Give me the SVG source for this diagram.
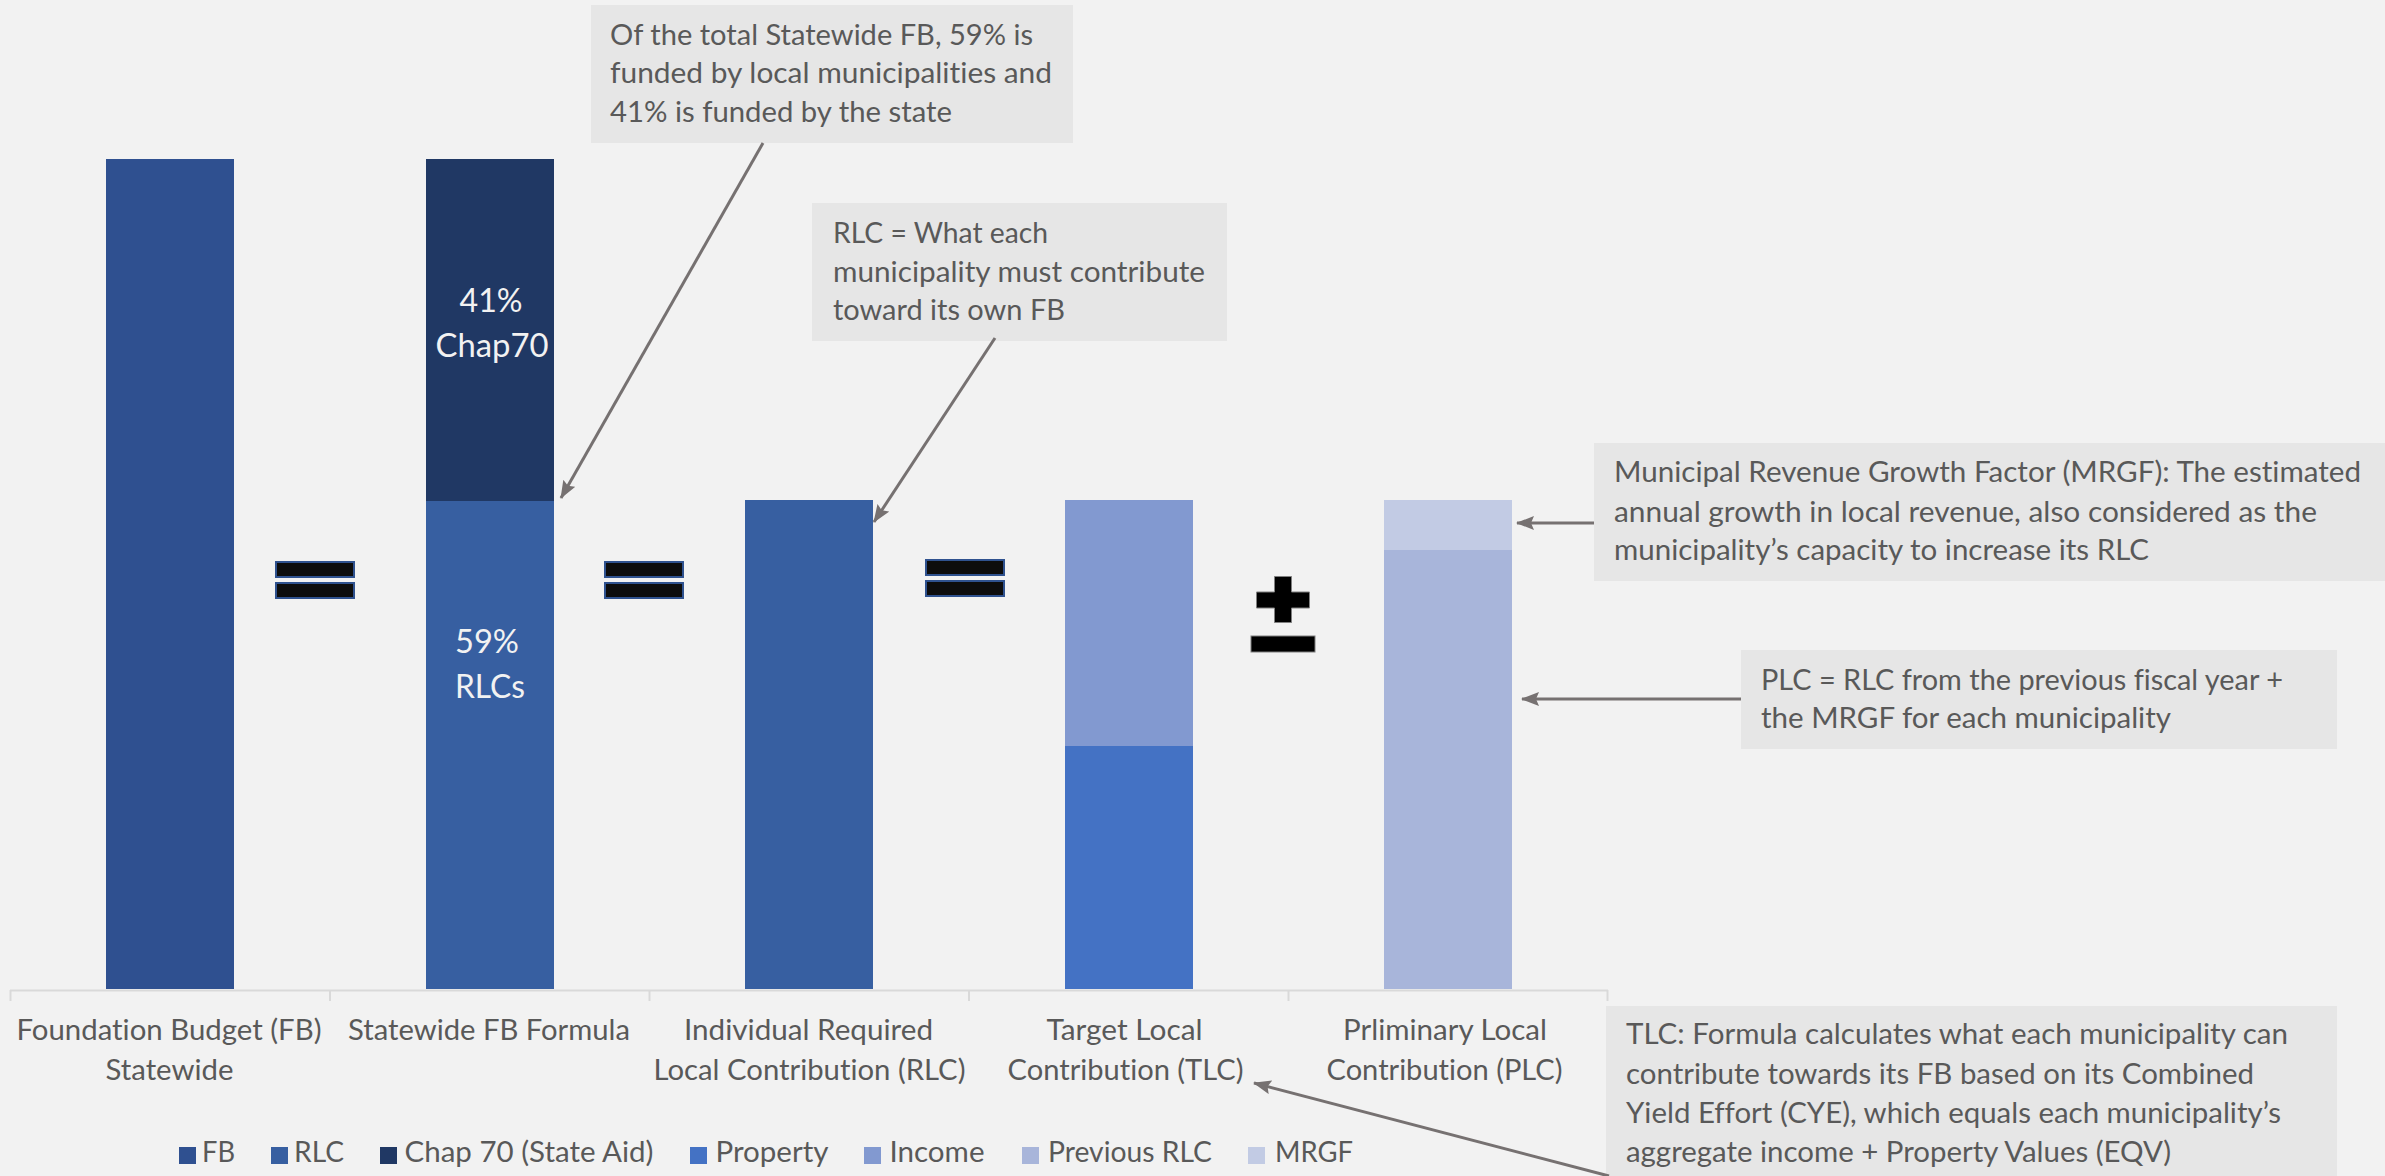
<svg xmlns="http://www.w3.org/2000/svg" width="2385" height="1176" viewBox="0 0 2385 1176">
  <style>
    text { font-variant-ligatures: none; font-feature-settings: "liga" 0, "dlig" 0, "clig" 0; }
    .txt { font-family: Lato, "Liberation Sans", sans-serif; fill: #595959; }
    .call { font-size: 28px; }
    .cat { font-size: 28px; text-anchor: middle; }
    .leg { font-size: 28px; }
    .inbar { font-family: Lato, "Liberation Sans", sans-serif; font-size: 33px; fill: #F2F2F2; text-anchor: middle; }
    .box { fill: #E6E6E6; }
    .eq { fill: #0D0D0D; stroke: #2F528F; stroke-width: 2; }
    .pm { fill: #000000; stroke: #7F7F7F; stroke-width: 1; }
    .conn { stroke: #767171; stroke-width: 3; fill: none; marker-end: url(#arr); }
    .axis { stroke: #D9D9D9; stroke-width: 2; fill: none; }
  </style>
  <defs>
    <marker id="arr" viewBox="0 0 18 14" refX="17" refY="7" markerWidth="18" markerHeight="14" markerUnits="userSpaceOnUse" orient="auto">
      <path d="M18,7 L0,0 L3,7 L0,14 Z" fill="#767171"/>
    </marker>
  </defs>
  <rect x="0" y="0" width="2385" height="1176" fill="#F2F2F2"/>

  <g id="axis">
    <path class="axis" d="M10,990.5 H1608 M10.5,990 V1001 M330,990 V1001 M649.5,990 V1001 M969,990 V1001 M1288.5,990 V1001 M1607.5,990 V1001"/>
  </g>

  <g id="bar-fb">
    <rect x="106" y="159" width="128" height="830" fill="#2F5090"/>
  </g>
  <g id="bar-statewide">
    <rect x="426" y="159" width="128" height="342" fill="#203864"/>
    <rect x="426" y="501" width="128" height="488" fill="#375FA1"/>
    <text class="inbar" x="491" y="312" textLength="63" lengthAdjust="spacingAndGlyphs">41%</text>
    <text class="inbar" x="492" y="357" textLength="113" lengthAdjust="spacingAndGlyphs">Chap70</text>
    <text class="inbar" x="487" y="653" textLength="64" lengthAdjust="spacingAndGlyphs">59%</text>
    <text class="inbar" x="490" y="698" textLength="70" lengthAdjust="spacingAndGlyphs">RLCs</text>
  </g>
  <g id="bar-rlc">
    <rect x="745" y="500" width="128" height="489" fill="#375FA1"/>
  </g>
  <g id="bar-tlc">
    <rect x="1065" y="500" width="128" height="246" fill="#8299D0"/>
    <rect x="1065" y="746" width="128" height="243" fill="#4472C4"/>
  </g>
  <g id="bar-plc">
    <rect x="1384" y="500" width="128" height="50" fill="#C2CBE4"/>
    <rect x="1384" y="550" width="128" height="439" fill="#A8B5DA"/>
  </g>

  <g id="op-eq1">
    <rect class="eq" x="276" y="562" width="78" height="15"/>
    <rect class="eq" x="276" y="583" width="78" height="15"/>
  </g>
  <g id="op-eq2">
    <rect class="eq" x="605" y="562" width="78" height="15"/>
    <rect class="eq" x="605" y="583" width="78" height="15"/>
  </g>
  <g id="op-eq3">
    <rect class="eq" x="926" y="560" width="78" height="15"/>
    <rect class="eq" x="926" y="581" width="78" height="15"/>
  </g>
  <g id="op-pm">
    <path class="pm" d="M1274.5,576.5 H1291.5 V592 H1309.5 V608 H1291.5 V622.5 H1274.5 V608 H1256.5 V592 H1274.5 Z"/>
    <rect class="pm" x="1251" y="636" width="64" height="16"/>
  </g>

  <g id="categories" class="txt cat">
    <text x="169" y="1040" textLength="305" lengthAdjust="spacingAndGlyphs">Foundation Budget (FB)</text>
    <text x="169.5" y="1080" textLength="128" lengthAdjust="spacingAndGlyphs">Statewide</text>
    <text x="489" y="1040" textLength="282" lengthAdjust="spacingAndGlyphs">Statewide FB Formula</text>
    <text x="808.5" y="1040" textLength="249" lengthAdjust="spacingAndGlyphs">Individual Required</text>
    <text x="809.5" y="1080" textLength="312" lengthAdjust="spacingAndGlyphs">Local Contribution (RLC)</text>
    <text x="1124.5" y="1040" textLength="156" lengthAdjust="spacingAndGlyphs">Target Local</text>
    <text x="1125.5" y="1080" textLength="236" lengthAdjust="spacingAndGlyphs">Contribution (TLC)</text>
    <text x="1445" y="1040" textLength="204" lengthAdjust="spacingAndGlyphs">Prliminary Local</text>
    <text x="1444.5" y="1080" textLength="236" lengthAdjust="spacingAndGlyphs">Contribution (PLC)</text>
  </g>

  <g id="legend" class="txt leg">
    <rect x="179" y="1147" width="17" height="17" fill="#2F5090"/>
    <text x="202" y="1162" textLength="33" lengthAdjust="spacingAndGlyphs">FB</text>
    <rect x="271" y="1147" width="17" height="17" fill="#375FA1"/>
    <text x="294" y="1162" textLength="50" lengthAdjust="spacingAndGlyphs">RLC</text>
    <rect x="380" y="1147" width="17" height="17" fill="#203864"/>
    <text x="404.5" y="1162" textLength="249" lengthAdjust="spacingAndGlyphs">Chap 70 (State Aid)</text>
    <rect x="690" y="1147" width="17" height="17" fill="#4472C4"/>
    <text x="715.5" y="1162" textLength="113" lengthAdjust="spacingAndGlyphs">Property</text>
    <rect x="864" y="1147" width="17" height="17" fill="#8299D0"/>
    <text x="889.5" y="1162" textLength="95" lengthAdjust="spacingAndGlyphs">Income</text>
    <rect x="1022" y="1147" width="17" height="17" fill="#A8B5DA"/>
    <text x="1048" y="1162" textLength="164" lengthAdjust="spacingAndGlyphs">Previous RLC</text>
    <rect x="1248" y="1147" width="17" height="17" fill="#C2CBE4"/>
    <text x="1275" y="1162" textLength="78" lengthAdjust="spacingAndGlyphs">MRGF</text>
  </g>

  <g id="callout-statewide">
    <rect class="box" x="591" y="5" width="482" height="138"/>
    <text class="txt call" x="610" y="45" textLength="423" lengthAdjust="spacingAndGlyphs">Of the total Statewide FB, 59% is</text>
    <text class="txt call" x="610" y="83" textLength="442" lengthAdjust="spacingAndGlyphs">funded by local municipalities and</text>
    <text class="txt call" x="610" y="122" textLength="342" lengthAdjust="spacingAndGlyphs">41% is funded by the state</text>
  </g>
  <g id="callout-rlc">
    <rect class="box" x="812" y="203" width="415" height="138"/>
    <text class="txt call" x="833" y="243" textLength="215" lengthAdjust="spacingAndGlyphs">RLC = What each</text>
    <text class="txt call" x="833" y="282" textLength="372" lengthAdjust="spacingAndGlyphs">municipality must contribute</text>
    <text class="txt call" x="833" y="320" textLength="232" lengthAdjust="spacingAndGlyphs">toward its own FB</text>
  </g>
  <g id="callout-mrgf">
    <rect class="box" x="1594" y="443" width="791" height="138"/>
    <text class="txt call" x="1614" y="482" textLength="747" lengthAdjust="spacingAndGlyphs">Municipal Revenue Growth Factor (MRGF): The estimated</text>
    <text class="txt call" x="1614" y="522" textLength="703" lengthAdjust="spacingAndGlyphs">annual growth in local revenue, also considered as the</text>
    <text class="txt call" x="1614" y="560" textLength="535" lengthAdjust="spacingAndGlyphs">municipality’s capacity to increase its RLC</text>
  </g>
  <g id="callout-plc">
    <rect class="box" x="1741" y="650" width="596" height="99"/>
    <text class="txt call" x="1761" y="690" textLength="522" lengthAdjust="spacingAndGlyphs">PLC = RLC from the previous fiscal year +</text>
    <text class="txt call" x="1761" y="728" textLength="410" lengthAdjust="spacingAndGlyphs">the MRGF for each municipality</text>
  </g>
  <g id="callout-tlc">
    <rect class="box" x="1606" y="1006" width="731" height="170"/>
    <text class="txt call" x="1626" y="1044" textLength="662" lengthAdjust="spacingAndGlyphs">TLC: Formula calculates what each municipality can</text>
    <text class="txt call" x="1626" y="1084" textLength="628" lengthAdjust="spacingAndGlyphs">contribute towards its FB based on its Combined</text>
    <text class="txt call" x="1626" y="1123" textLength="655" lengthAdjust="spacingAndGlyphs">Yield Effort (CYE), which equals each municipality’s</text>
    <text class="txt call" x="1626" y="1162" textLength="545" lengthAdjust="spacingAndGlyphs">aggregate income + Property Values (EQV)</text>
  </g>

  <g id="connectors">
    <line class="conn" x1="763" y1="143" x2="561" y2="498"/>
    <line class="conn" x1="995" y1="338" x2="874" y2="522"/>
    <line class="conn" x1="1594" y1="523" x2="1517" y2="523"/>
    <line class="conn" x1="1741" y1="699" x2="1522" y2="699"/>
    <line class="conn" x1="1609" y1="1176" x2="1254" y2="1083"/>
  </g>
</svg>
